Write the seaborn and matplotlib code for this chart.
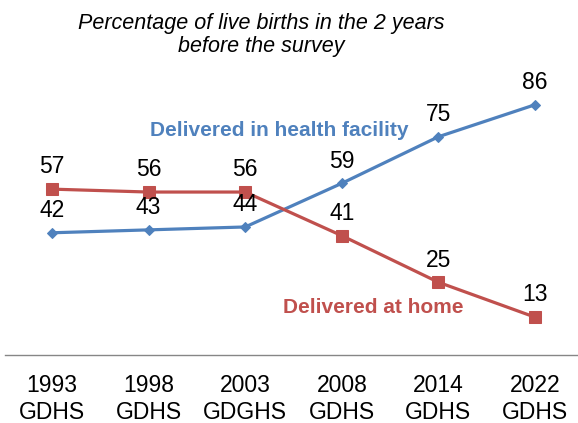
import pandas as pd
import matplotlib.pyplot as plt
import seaborn as sns

# Survey rounds and percentages of live births
surveys = ['1993\nGDHS', '1998\nGDHS', '2003\nGDGHS', '2008\nGDHS', '2014\nGDHS', '2022\nGDHS']
facility = [42, 43, 44, 59, 75, 86]
home = [57, 56, 56, 41, 25, 13]

blue = '#4F81BD'
red = '#C0504D'

sns.set_style("white")
plt.rcParams['font.family'] = ['Liberation Sans', 'DejaVu Sans']
plt.rcParams['text.color'] = 'black'
plt.rcParams['xtick.color'] = 'black'

df = pd.DataFrame({'Survey': surveys, 'Facility': facility, 'Home': home})

fig = plt.figure(figsize=(5.78, 4.23), dpi=100)
ax = fig.add_axes([5 / 578, 1 - 355 / 423, 573 / 578, 291 / 423])

sns.lineplot(x='Survey', y='Facility', data=df, ax=ax, sort=False, color=blue,
             linewidth=2.3, marker='D', markersize=5, markeredgecolor=blue)
sns.lineplot(x='Survey', y='Home', data=df, ax=ax, sort=False, color=red,
             linewidth=2.3, marker='s', markersize=8, markeredgecolor=red)

# Value labels above each point
for i, row in df.iterrows():
    for col in ['Facility', 'Home']:
        ax.annotate(f'{row[col]}', (i, row[col]), textcoords='offset points',
                    xytext=(0, 16), ha='center', va='center', fontsize=16.5)

ax.set_ylim(0, 100)
ax.set_xlim(-0.487, 5.445)
ax.set_xlabel('')
ax.set_ylabel('')
ax.set_yticks([])
ax.tick_params(axis='x', length=0, pad=14, labelsize=16.5)
for s in ['top', 'left', 'right']:
    ax.spines[s].set_visible(False)
ax.spines['bottom'].set_color('#868686')
ax.spines['bottom'].set_linewidth(1)

# Series names
fig.text(279 / 578, 1 - 130 / 423, 'Delivered in health facility', color=blue,
         fontsize=15, fontweight='bold', ha='center', va='center')
fig.text(373 / 578, 1 - 307 / 423, 'Delivered at home', color=red,
         fontsize=15, fontweight='bold', ha='center', va='center')

# Title
fig.text(261 / 578, 1 - 35 / 423, 'Percentage of live births in the 2 years\nbefore the survey',
         fontsize=15.5, style='italic', ha='center', va='center', linespacing=1.1)

plt.savefig('out.png', dpi=100)
